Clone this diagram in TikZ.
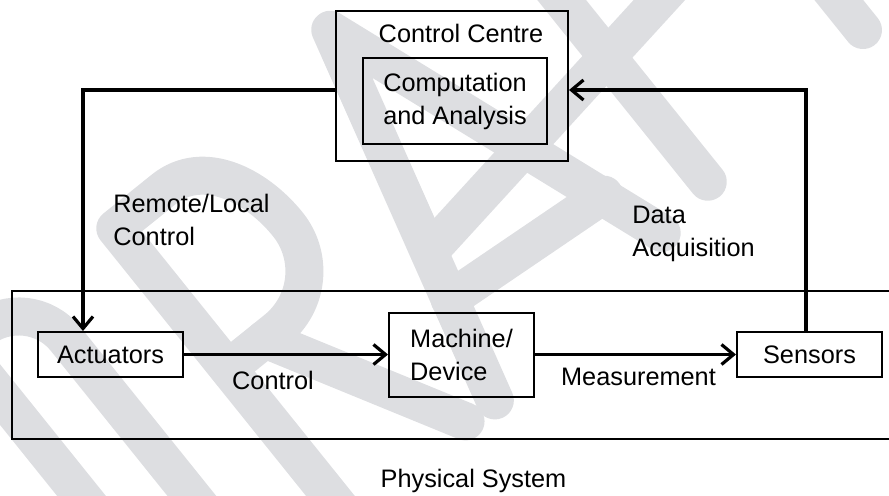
\documentclass[tikz,border=0pt]{standalone}
\usepackage{fontspec}
\setmainfont{Liberation Sans}
\usetikzlibrary{arrows.meta,positioning}
\definecolor{wmgray}{RGB}{221,222,225}
\tikzstyle{block} = [draw, line width=1pt, inner sep=0pt]
\tikzstyle{txt}   = [inner sep=0pt]
\tikzstyle{arrow} = [line width=1.6pt, -{Straight Barb[length=6pt,width=10pt]}]
\tikzstyle{wm}    = [wmgray, line width=19pt, line cap=round, line join=round]

\begin{document}
\begin{tikzpicture}[x=0.5pt,y=0.5pt,font=\fontsize{12.65pt}{16.5pt}\selectfont]
	\useasboundingbox (0,0) rectangle (889,495);
	\begin{scope}
		\clip (0,0) rectangle (889,495);
		% watermark
		\begin{scope}[shift={(478,90)},rotate=38.8]
			\draw[wm] (-366,-40) -- (-366,370) -- (-340,370) arc[start angle=90,end angle=0,radius=60] -- (-280,30);
			\draw[wm] (-172,-40) -- (-172,365) -- (-110,365) to[out=0,in=90] (-35,260) to[out=-90,in=0] (-110,185) -- (-172,185);
			\draw[wm] (-125,185) -- (-20,-5);
			\draw[wm] (16,-7) -- (120,385) -- (251,19);
			\draw[wm] (44,100) -- (230,85);
			\draw[wm] (58,150) -- (460,212);
			\draw[wm] (319,30) -- (319,400) -- (470,400);
			\draw[wm] (535,51) -- (535,400);
			\draw[wm] (430,400) -- (640,400);
		\end{scope}
		\node[block, minimum width=444pt, minimum height=74pt] (phys) at (456,130) {};
	\end{scope}

	\node[block, minimum width=116pt, minimum height=75pt] (centre) at (452,409) {};
	\node[txt] (centretitle) at (461,462) {Control Centre};
	\node[block, minimum width=92pt, minimum height=43pt, align=center] (comp) at (455,394) {Computation\\and Analysis};

	\node[block, minimum width=72.5pt, minimum height=22.5pt] (act) at (110.5,140.5) {Actuators};
	\node[block, minimum width=72.5pt, minimum height=42pt, align=left] (mach) at (461.5,140) {Machine/\\Device};
	\node[block, minimum width=72.5pt, minimum height=22.5pt] (sens) at (809.5,140.5) {Sensors};

	\node[txt, anchor=west, align=left] (rlc) at (113,275) {Remote/Local\\Control};
	\node[txt, anchor=west, align=left] (daq) at (632,261.5) {Data\\Acquisition};
	\node[txt] (ctrl) at (273,115) {Control};
	\node[txt] (meas) at (638.5,118.5) {Measurement};
	\node[txt] (physname) at (473.5,14) {Physical System};

	\draw[arrow] ([yshift=-2pt]centre.west) -| ([xshift=-13.75pt]act.north);
	\draw[arrow] ([xshift=-1.75pt]sens.north) |- ([yshift=-2pt]centre.east);
	\draw[arrow] (act.east) -- (mach.west |- act.east);
	\draw[arrow] (mach.east |- sens.west) -- (sens.west);
\end{tikzpicture}
\end{document}
